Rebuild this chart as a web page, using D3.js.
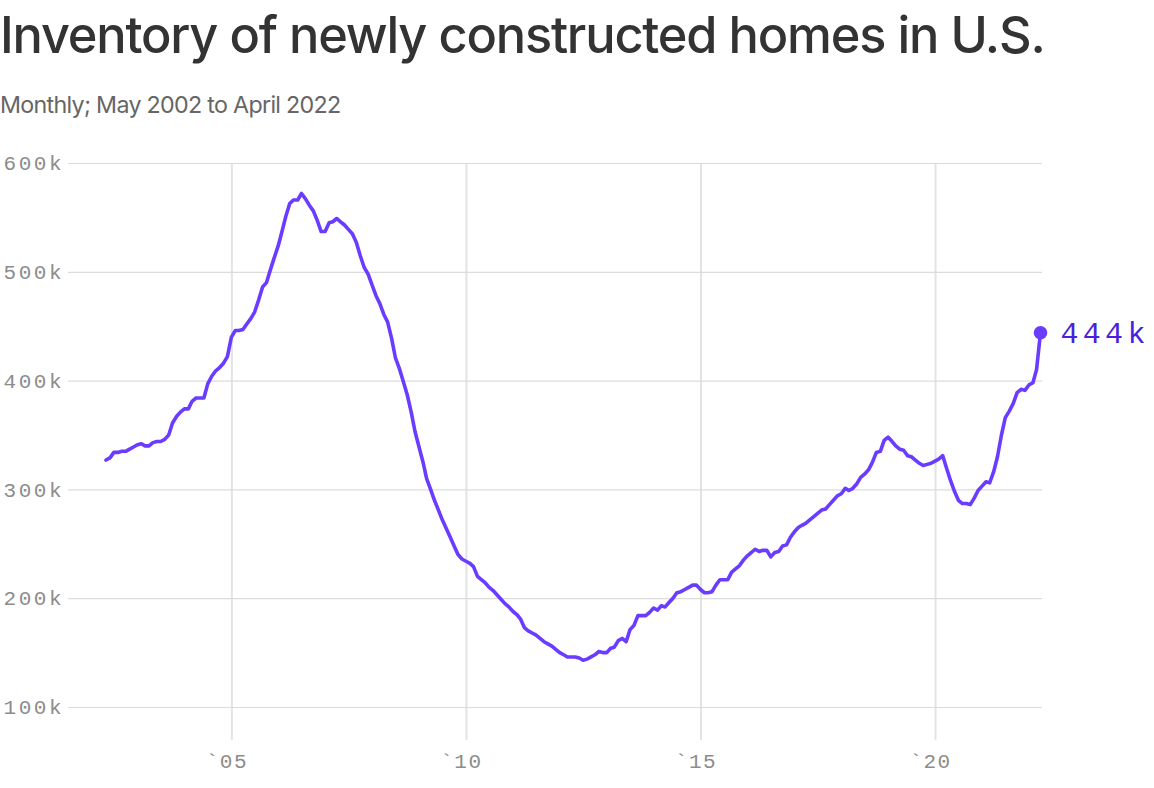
<!DOCTYPE html>
<html>
<head>
<meta charset="utf-8">
<script src="https://cdn.jsdelivr.net/npm/d3@7"></script>
<style>
  html, body { margin: 0; padding: 0; background: #fff; }
  svg { display: block; }
</style>
</head>
<body>
<svg id="chart" width="1154" height="788"></svg>
<script>
// ---- Data ----
const title = "Inventory of newly constructed homes in U.S.";
const subtitle = "Monthly; May 2002 to April 2022";
const startMonth = [2002, 4]; // May 2002 (0-based month)
// Monthly inventory (thousands), May 2002 – April 2022
const v2002 = [327, 329, 334, 334, 335, 335, 337, 339];
const v2003 = [341, 342, 340, 340, 343, 344, 344, 346, 350, 361, 367, 371];
const v2004 = [374, 374, 381, 384, 384, 384, 397, 404, 409, 412, 416, 422];
const v2005 = [440, 446, 446, 447, 452, 457, 463, 474, 486, 490, 502, 513];
const v2006 = [524, 538, 551, 563, 566, 566, 572, 567, 561, 556, 547, 537];
const v2007 = [537, 545, 546, 549, 546, 543, 539, 535, 527, 515, 504, 498];
const v2008 = [488, 478, 471, 461, 454, 439, 421, 411, 399, 387, 371, 353];
const v2009 = [339, 325, 310, 300, 290, 281, 272, 264, 256, 248, 240, 236];
const v2010 = [234, 232, 229, 220, 217, 214, 210, 207, 203, 199, 195, 192];
const v2011 = [188, 185, 181, 173, 170, 168, 166, 163, 160, 158, 156, 153];
const v2012 = [150, 148, 146, 146, 146, 145, 143, 144, 146, 148, 151, 150];
const v2013 = [150, 154, 155, 161, 163, 160, 171, 175, 184, 184, 184, 187];
const v2014 = [191, 189, 193, 192, 196, 200, 205, 206, 208, 210, 212, 212];
const v2015 = [208, 205, 205, 206, 212, 217, 217, 217, 224, 227, 230, 235];
const v2016 = [239, 242, 245, 243, 244, 244, 238, 242, 243, 248, 249, 256];
const v2017 = [261, 265, 267, 269, 272, 275, 278, 281, 282, 286, 290, 294];
const v2018 = [296, 301, 299, 301, 305, 311, 314, 318, 325, 334, 335, 345];
const v2019 = [348, 344, 340, 337, 336, 331, 330, 327, 324, 322, 323, 324];
const v2020 = [326, 328, 331, 319, 308, 298, 290, 287, 287, 286, 292, 299];
const v2021 = [303, 307, 306, 316, 330, 350, 366, 372, 379, 389, 392, 391];
const v2022 = [396, 398, 410, 444];

const yTicks = [100, 200, 300, 400, 500, 600];
const yTickLabels = ["100k", "200k", "300k", "400k", "500k", "600k"];
const xTickYears = [2005, 2010, 2015, 2020];
const xTickLabels = ["`05", "`10", "`15", "`20"];
const endLabel = "444k";

// ---- Build table ----
const values = [].concat(v2002, v2003, v2004, v2005, v2006, v2007, v2008, v2009,
  v2010, v2011, v2012, v2013, v2014, v2015, v2016, v2017, v2018, v2019, v2020, v2021, v2022);
const data = values.map((v, i) => ({ date: new Date(startMonth[0], startMonth[1] + i, 1), value: v }));

// ---- Layout ----
const svg = d3.select("#chart");
const plotLeft = 68, plotRight = 1042, plotTop = 163, plotBottom = 707;

const x = d3.scaleTime()
  .domain([data[0].date, data[data.length - 1].date])
  .range([106, 1040.5]);
const y = d3.scaleLinear().domain([100, 600]).range([plotBottom, plotTop]);

const monoFont = "'Liberation Mono', 'DejaVu Sans Mono', monospace";
const sansFont = "Inter, 'Noto Sans', Roboto, sans-serif";

// Title
const t = svg.append("text")
  .attr("x", 0).attr("y", 53)
  .attr("font-family", sansFont)
  .attr("font-size", 47)
  .attr("font-weight", 500)
  .attr("letter-spacing", -1.2)
  .attr("fill", "#333333")
  .text(title);
const tw = t.node().getComputedTextLength();
t.attr("font-size", 47 * 1041 / tw);

const st = svg.append("text")
  .attr("x", 0).attr("y", 113)
  .attr("font-family", sansFont)
  .attr("font-size", 20)
  .attr("letter-spacing", -0.7)
  .attr("fill", "#666666")
  .text(subtitle);
const sw = st.node().getComputedTextLength();
st.attr("font-size", 20 * 337 / sw);

// Vertical gridlines (x axis)
const xAxis = d3.axisBottom(x)
  .tickValues(xTickYears.map(yy => new Date(yy, 0, 1)))
  .tickFormat((d, i) => xTickLabels[i])
  .tickSize(-(740 - plotTop));
const gx = svg.append("g").attr("transform", `translate(0,740)`).call(xAxis);
gx.select(".domain").remove();
gx.selectAll(".tick line").attr("stroke", "#e3e3e3").attr("stroke-width", 2);
gx.selectAll(".tick text")
  .attr("y", 13)
  .attr("x", -5)
  .attr("font-family", monoFont)
  .attr("font-size", 21)
  .attr("letter-spacing", 1.5)
  .attr("fill", "#8c8c8c");

// Horizontal gridlines (y axis)
const yAxis = d3.axisLeft(y)
  .tickValues(yTicks)
  .tickFormat((d, i) => yTickLabels[i])
  .tickSize(-(plotRight - plotLeft))
  .tickPadding(4);
const gy = svg.append("g").attr("transform", `translate(${plotLeft},0)`).call(yAxis);
gy.select(".domain").remove();
gy.selectAll(".tick line").attr("stroke", "#dcdcdc").attr("stroke-width", 1.2);
gy.selectAll(".tick text")
  .attr("font-family", monoFont)
  .attr("font-size", 21)
  .attr("letter-spacing", 2.5)
  .attr("fill", "#8c8c8c");

// Line
const line = d3.line().x(d => x(d.date)).y(d => y(d.value));
svg.append("path")
  .datum(data)
  .attr("fill", "none")
  .attr("stroke", "#6a3cff")
  .attr("stroke-width", 3.6)
  .attr("stroke-linejoin", "round")
  .attr("stroke-linecap", "round")
  .attr("d", line);

// End dot & label
const last = data[data.length - 1];
svg.append("circle")
  .attr("cx", x(last.date)).attr("cy", y(last.value))
  .attr("r", 6.8).attr("fill", "#6a3cff");
svg.append("text")
  .attr("x", x(last.date) + 20).attr("y", y(last.value))
  .attr("dy", "0.35em")
  .attr("font-family", monoFont)
  .attr("font-size", 30)
  .attr("letter-spacing", 4.3)
  .attr("fill", "#4a1fe0")
  .text(endLabel);
</script>
</body>
</html>
